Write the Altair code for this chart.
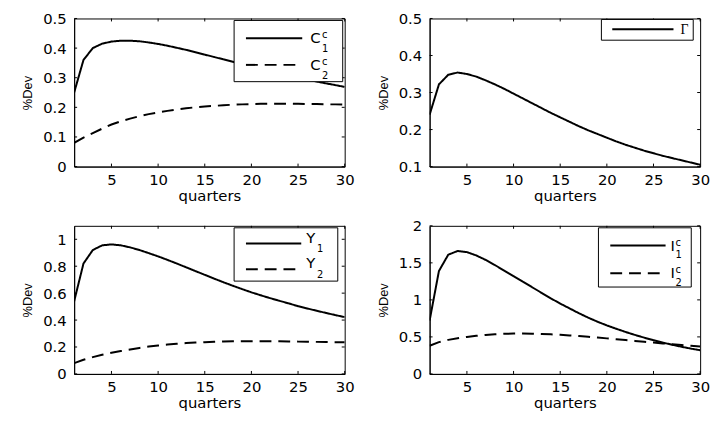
import altair as alt
import pandas as pd

quarters = list(range(1, 31))

c1 = [0.25, 0.36, 0.40, 0.415, 0.422, 0.425, 0.425, 0.423, 0.419, 0.414,
      0.408, 0.401, 0.394, 0.386, 0.378, 0.370, 0.362, 0.354, 0.346, 0.338,
      0.330, 0.322, 0.315, 0.307, 0.300, 0.293, 0.287, 0.281, 0.275, 0.269]
c2 = [0.08, 0.098, 0.113, 0.128, 0.142, 0.153, 0.162, 0.170, 0.177, 0.183,
      0.188, 0.193, 0.197, 0.200, 0.203, 0.205, 0.207, 0.209, 0.210, 0.211,
      0.212, 0.212, 0.212, 0.212, 0.212, 0.211, 0.211, 0.210, 0.210, 0.209]
gamma = [0.24, 0.322, 0.348, 0.354, 0.350, 0.343, 0.333, 0.322, 0.310, 0.297,
         0.284, 0.271, 0.258, 0.245, 0.233, 0.221, 0.209, 0.198, 0.188, 0.178,
         0.168, 0.159, 0.151, 0.143, 0.136, 0.129, 0.123, 0.117, 0.111, 0.105]
y1 = [0.54, 0.82, 0.92, 0.955, 0.962, 0.955, 0.94, 0.92, 0.897, 0.873,
      0.847, 0.82, 0.792, 0.764, 0.736, 0.708, 0.681, 0.655, 0.63, 0.606,
      0.584, 0.563, 0.543, 0.524, 0.503, 0.486, 0.469, 0.453, 0.437, 0.422]
y2 = [0.08, 0.105, 0.125, 0.142, 0.157, 0.17, 0.182, 0.193, 0.203, 0.211,
      0.218, 0.224, 0.229, 0.233, 0.236, 0.239, 0.241, 0.242, 0.243, 0.243,
      0.243, 0.242, 0.242, 0.241, 0.240, 0.239, 0.238, 0.237, 0.236, 0.235]
i1 = [0.72, 1.39, 1.61, 1.66, 1.645, 1.60, 1.54, 1.47, 1.395, 1.32,
      1.245, 1.17, 1.095, 1.02, 0.95, 0.885, 0.82, 0.76, 0.705, 0.655,
      0.61, 0.567, 0.527, 0.49, 0.455, 0.423, 0.394, 0.367, 0.342, 0.32]
i2 = [0.38, 0.43, 0.46, 0.482, 0.50, 0.515, 0.527, 0.536, 0.542, 0.545,
      0.546, 0.544, 0.54, 0.535, 0.528, 0.52, 0.511, 0.501, 0.491, 0.48,
      0.469, 0.458, 0.446, 0.435, 0.423, 0.412, 0.401, 0.39, 0.38, 0.37]

x_ticks = [5, 10, 15, 20, 25, 30]
ticks_c = [0, 0.1, 0.2, 0.3, 0.4, 0.5]
ticks_gamma = [0.1, 0.2, 0.3, 0.4, 0.5]
ticks_y = [0, 0.2, 0.4, 0.6, 0.8, 1]
ticks_i = [0, 0.5, 1, 1.5, 2]

x_title = "quarters"
y_title = "%Dev"

# legend texts: (main, superscript, subscript)
leg_c = [("C", "c", "1"), ("C", "c", "2")]
leg_gamma = [("Γ", "", "")]
leg_y = [("Y", "", "1"), ("Y", "", "2")]
leg_i = [("I", "c", "1"), ("I", "c", "2")]

W, H = 274, 150
FONT = "DejaVu Sans"
DASH = [12, 7]
TICK = 3
one = pd.DataFrame({"k": [0]})


def legend_layers(texts, box, line_x, line_ys, main_x, dy_main, sub_x, dy_sup, dy_sub,
                  main_font=FONT, main_size=15):
    x0, x1, yb0, yb1 = box
    layers = [alt.Chart(one).mark_rect(fill="white", stroke="black", strokeWidth=1).encode(
        x=alt.value(x0), x2=alt.value(x1), y=alt.value(yb0), y2=alt.value(yb1))]
    for idx, (main, sup, sub) in enumerate(texts):
        ly = line_ys[idx]
        rk = dict(color="black", strokeWidth=2)
        if idx == 1:
            rk["strokeDash"] = DASH
        layers.append(alt.Chart(one).mark_rule(**rk).encode(
            x=alt.value(line_x[0]), x2=alt.value(line_x[1]), y=alt.value(ly)))
        layers.append(alt.Chart(one).mark_text(
            align="left", baseline="alphabetic", font=main_font, fontSize=main_size, color="black"
        ).encode(x=alt.value(main_x), y=alt.value(ly + dy_main), text=alt.value(main)))
        if sup:
            layers.append(alt.Chart(one).mark_text(
                align="left", baseline="alphabetic", font=FONT, fontSize=10, color="black"
            ).encode(x=alt.value(sub_x), y=alt.value(ly + dy_sup), text=alt.value(sup)))
        if sub:
            layers.append(alt.Chart(one).mark_text(
                align="left", baseline="alphabetic", font=FONT, fontSize=10, color="black"
            ).encode(x=alt.value(sub_x), y=alt.value(ly + dy_sub), text=alt.value(sub)))
    return layers


def panel(solid, dashed, domain, yticks, legend):
    rows = [{"q": q, "v": v, "s": "solid"} for q, v in zip(quarters, solid)]
    if dashed is not None:
        rows += [{"q": q, "v": v, "s": "dashed"} for q, v in zip(quarters, dashed)]
    df = pd.DataFrame(rows)
    xenc = alt.X("q:Q", scale=alt.Scale(domain=[1, 30], nice=False, zero=False),
                 axis=alt.Axis(values=x_ticks, title=x_title, labelOverlap=False))
    yenc = alt.Y("v:Q", scale=alt.Scale(domain=domain, nice=False, zero=False),
                 axis=alt.Axis(values=yticks, title=y_title, format="~g", labelOverlap=False))
    lines = alt.Chart(df).mark_line(color="black", strokeWidth=2, clip=True).encode(
        x=xenc, y=yenc,
        detail="s:N",
        strokeDash=alt.StrokeDash("s:N", scale=alt.Scale(domain=["solid", "dashed"],
                                                          range=[[1, 0], DASH]), legend=None),
    )
    # inward tick marks on all four sides (MATLAB style)
    xt = pd.DataFrame({"q": x_ticks})
    yt = pd.DataFrame({"v": yticks})
    tk = dict(color="black", strokeWidth=1)
    ticks = [
        alt.Chart(xt).mark_rule(**tk).encode(x=xenc, y=alt.value(H), y2=alt.value(H - TICK)),
        alt.Chart(xt).mark_rule(**tk).encode(x=xenc, y=alt.value(0), y2=alt.value(TICK)),
        alt.Chart(yt).mark_rule(**tk).encode(y=yenc, x=alt.value(0), x2=alt.value(TICK)),
        alt.Chart(yt).mark_rule(**tk).encode(y=yenc, x=alt.value(W - TICK), x2=alt.value(W)),
    ]
    return alt.layer(lines, *ticks, *legend).properties(width=W, height=H)


p_c = panel(c1, c2, [0, 0.5], ticks_c,
            legend_layers(leg_c, (162, 272, 2, 64), (174, 231), [20, 47], 239, 5, 251, 0, 14))
p_g = panel(gamma, None, [0.1, 0.5], ticks_gamma,
            legend_layers(leg_gamma, (174, 267, 1, 22), (185, 247), [11], 254, 5, 0, 0, 0,
                          main_font="Liberation Serif", main_size=14))
p_y = panel(y1, y2, [0, 1.1], ticks_y,
            legend_layers(leg_y, (162, 267, 2, 56), (174, 230), [18, 44], 235, -1, 246, 0, 9))
p_i = panel(i1, i2, [0, 2], ticks_i,
            legend_layers(leg_i, (171, 265, 2, 62), (183, 239), [20, 48], 244, 5, 249, 0, 13))

chart = alt.concat(
    p_c, p_g, p_y, p_i, columns=2,
    spacing=alt.RowColnumber(row=60, column=86), bounds="flush"
).properties(
    padding={"left": 13, "top": 0, "right": 0, "bottom": 2}
).configure_view(
    stroke="black", strokeWidth=1
).configure_axis(
    grid=False, ticks=False, domainColor="black", domainWidth=1,
    labelFont=FONT, labelFontSize=15, labelColor="black", labelOverlap=False,
    titleColor="black", titleFontWeight="normal"
).configure_axisX(
    labelPadding=6, titleFont=FONT, titleFontSize=15, titlePadding=1, labelFlush=False
).configure_axisY(
    labelPadding=8, titleFont="Liberation Sans", titleFontSize=13, titlePadding=8
)

chart.save("out.html", embed_options={"renderer": "svg", "actions": False})
